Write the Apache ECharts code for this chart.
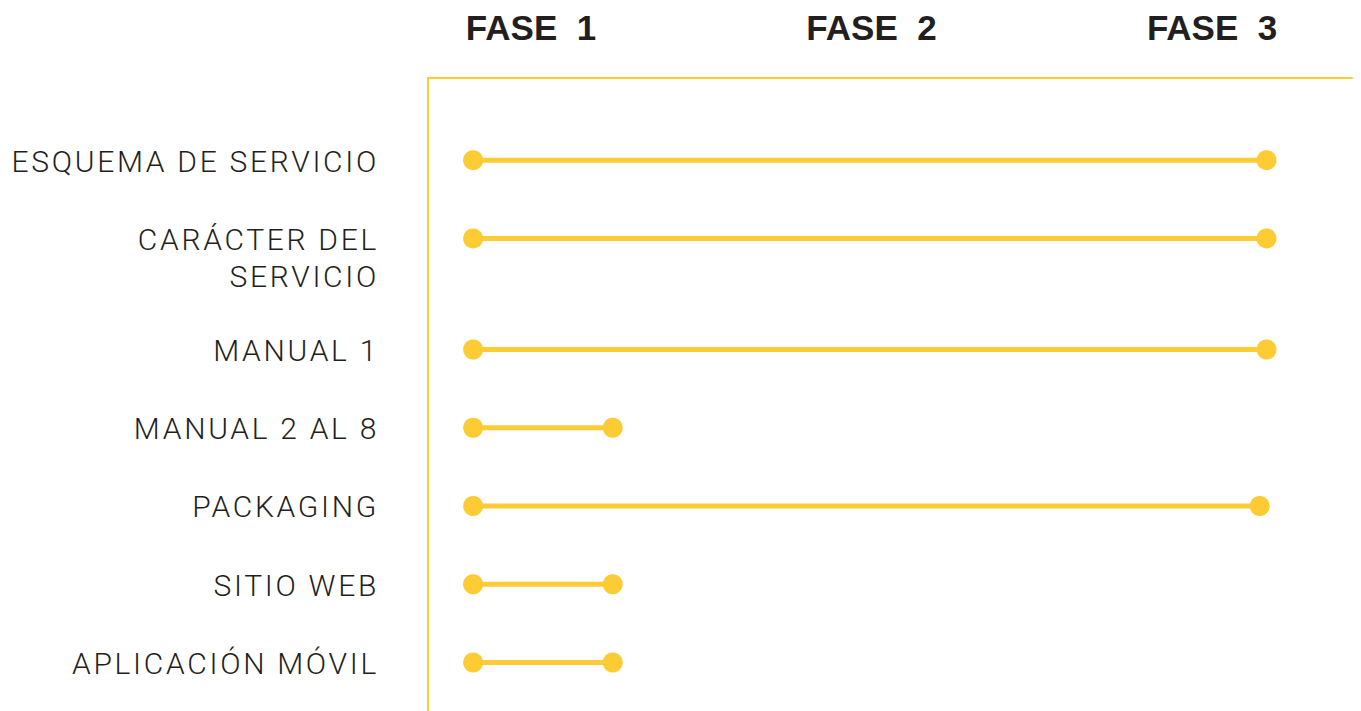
<!DOCTYPE html>
<html>
<head>
<meta charset="utf-8">
<script src="https://cdn.jsdelivr.net/npm/echarts@6/dist/echarts.min.js"></script>
<style>
  html, body { margin: 0; padding: 0; background: #ffffff; }
  #chart { width: 1361px; height: 711px; }
  /* letter spacing for the row labels (SVG text) */
  #chart text[style*="Roboto"], #chart tspan[style*="Roboto"] { letter-spacing: 2.7px; }
</style>
</head>
<body>
<div id="chart"></div>
<script>
// ---- data ----
const categories = [
  'ESQUEMA DE SERVICIO',
  'CARÁCTER DEL\nSERVICIO',
  'MANUAL 1',
  'MANUAL 2 AL 8',
  'PACKAGING',
  'SITIO WEB',
  'APLICACIÓN MÓVIL'
];
const startValues = [0.83, 0.83, 0.83, 0.83, 0.83, 0.83, 0.83];
const endValues   = [3.16, 3.16, 3.16, 1.24, 3.14, 1.24, 1.24];
const phaseTicks  = [1, 2, 3];
const phaseLabels = ['FASE  1', 'FASE  2', 'FASE  3'];

// ---- layout / style ----
const YELLOW = '#FDCB33';
const TEXT = '#231F20';
const EXTRA_LINE_GAP = 0.42;   // extra row space per extra label line
const LABEL_LINE_HEIGHT = 37;

// row positions derived from label line counts
const rowPos = [];
let acc = 0;
categories.forEach((c, i) => {
  rowPos.push(acc);
  acc += 1 + EXTRA_LINE_GAP * (c.split('\n').length - 1);
});

const seriesData = categories.map((c, i) => [startValues[i], endValues[i], rowPos[i], i]);

const chart = echarts.init(document.getElementById('chart'), null, { renderer: 'svg' });

const option = {
  backgroundColor: '#ffffff',
  animation: false,
  grid: { left: 428, right: 9, top: 78, bottom: 0, containLabel: false },
  xAxis: {
    type: 'value',
    position: 'top',
    min: 0.6975,
    max: 3.411,
    axisLine: { show: true, onZero: false, lineStyle: { color: YELLOW, width: 2 } },
    axisTick: { show: false },
    splitLine: { show: false },
    axisLabel: {
      customValues: phaseTicks,
      formatter: v => phaseLabels[phaseTicks.indexOf(v)] || '',
      color: TEXT,
      fontFamily: 'Liberation Sans',
      fontWeight: 'bold',
      fontSize: 35,
      margin: 33
    }
  },
  yAxis: {
    type: 'value',
    inverse: true,
    min: -1.05,
    max: 7.04,
    axisLine: { show: true, onZero: false, lineStyle: { color: YELLOW, width: 2 } },
    axisTick: { show: false },
    axisLabel: { show: false },
    splitLine: { show: false }
  },
  series: [{
    type: 'custom',
    clip: false,
    encode: { x: [0, 1], y: 2 },
    data: seriesData,
    renderItem: function (params, api) {
      const y = api.value(2);
      const s = api.coord([api.value(0), y]);
      const e = api.coord([api.value(1), y]);
      const idx = api.value(3);
      return {
        type: 'group',
        children: [
          { type: 'line', shape: { x1: s[0], y1: s[1], x2: e[0], y2: e[1] },
            style: { stroke: YELLOW, lineWidth: 5 } },
          { type: 'circle', shape: { cx: s[0], cy: s[1], r: 10 }, style: { fill: YELLOW } },
          { type: 'circle', shape: { cx: e[0], cy: e[1], r: 10 }, style: { fill: YELLOW } },
          { type: 'text', x: params.coordSys.x - 49, y: s[1] - LABEL_LINE_HEIGHT / 2 + 1,
            style: {
              text: categories[idx],
              fill: TEXT,
              fontFamily: 'Roboto',
              fontWeight: 300,
              fontSize: 30,
              lineHeight: LABEL_LINE_HEIGHT,
              align: 'right',
              verticalAlign: 'top'
            } }
        ]
      };
    }
  }]
};

chart.setOption(option);
</script>
</body>
</html>
